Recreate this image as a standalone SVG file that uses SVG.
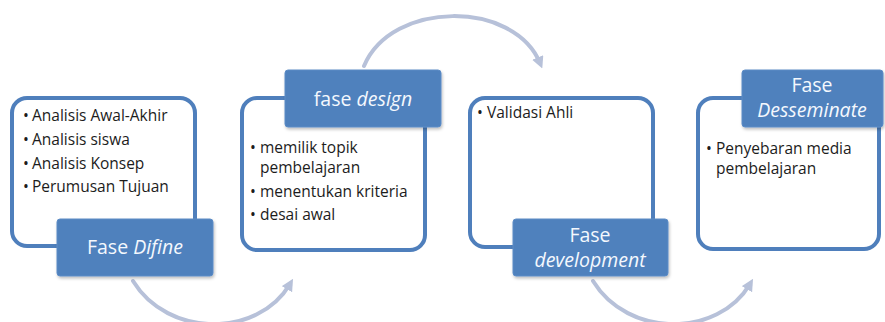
<svg xmlns="http://www.w3.org/2000/svg" width="885" height="322" viewBox="0 0 885 322">
<style>
.box{fill:#ffffff;stroke:#4f7fbc;stroke-width:4}
.lbl{fill:#4f81bd;stroke:#5d8cc6;stroke-width:1}
.lt{font-family:"Open Sans","Noto Sans",sans-serif;font-size:19.5px;fill:#f4f8fd;text-anchor:middle}
.bt{font-family:"Open Sans","Noto Sans",sans-serif;font-size:15.5px;fill:#1c1c1c}
.arc{fill:none;stroke:#b7c1d9;stroke-width:4;stroke-linecap:round}
</style>
<defs>
<marker id="ah" viewBox="0 0 10 10" refX="5" refY="5" markerWidth="3" markerHeight="3" orient="auto" markerUnits="strokeWidth">
<path d="M0,0 L10,5 L0,10 z" fill="#b7c1d9"/>
</marker>
<filter id="sh" x="-10%" y="-10%" width="130%" height="140%">
<feDropShadow dx="1" dy="2" stdDeviation="1.5" flood-color="#000" flood-opacity="0.25"/>
</filter>
</defs>
<rect width="885" height="322" fill="#ffffff"/>
<g id="connectors">
<path class="arc" d="M133,281 C168,338 258,338 290,284" marker-end="url(#ah)"/>
<path class="arc" d="M364,66 C392,0 514,0 540,63" marker-end="url(#ah)"/>
<path class="arc" d="M593,281 C628,338 718,338 750,284" marker-end="url(#ah)"/>
</g>
<g id="node-define">
<rect class="box" x="12" y="98" width="183" height="148" rx="15"/>
<text class="bt" x="23" y="121">•</text><text class="bt" x="32" y="121">Analisis Awal-Akhir</text>
<text class="bt" x="23" y="145">•</text><text class="bt" x="32" y="145">Analisis siswa</text>
<text class="bt" x="23" y="169">•</text><text class="bt" x="32" y="169">Analisis Konsep</text>
<text class="bt" x="23" y="192">•</text><text class="bt" x="32" y="192">Perumusan Tujuan</text>
<rect class="lbl" x="57" y="219" width="156" height="57" rx="3" filter="url(#sh)"/>
<text class="lt" x="135" y="254">Fase <tspan font-style="italic">Difine</tspan></text>
</g>
<g id="node-design">
<rect class="box" x="242" y="98" width="183" height="152" rx="15"/>
<text class="bt" x="250" y="153">•</text><text class="bt" x="260" y="153">memilik topik</text>
<text class="bt" x="260" y="173">pembelajaran</text>
<text class="bt" x="250" y="197">•</text><text class="bt" x="260" y="197">menentukan kriteria</text>
<text class="bt" x="250" y="220">•</text><text class="bt" x="260" y="220">desai awal</text>
<rect class="lbl" x="285" y="70" width="156" height="57" rx="3" filter="url(#sh)"/>
<text class="lt" x="363" y="106">fase <tspan font-style="italic">design</tspan></text>
</g>
<g id="node-development">
<rect class="box" x="470" y="98" width="183" height="149" rx="15"/>
<text class="bt" x="477" y="118">•</text><text class="bt" x="487" y="118">Validasi Ahli</text>
<rect class="lbl" x="513" y="219" width="155" height="57" rx="3" filter="url(#sh)"/>
<text class="lt" x="590" y="242">Fase</text>
<text class="lt" x="590" y="267" font-style="italic">development</text>
</g>
<g id="node-desseminate">
<rect class="box" x="698" y="98" width="181" height="151" rx="15"/>
<text class="bt" x="706" y="154">•</text><text class="bt" x="716" y="154">Penyebaran media</text>
<text class="bt" x="716" y="174">pembelajaran</text>
<rect class="lbl" x="742" y="70" width="141" height="57" rx="3" filter="url(#sh)"/>
<text class="lt" x="812" y="92">Fase</text>
<text class="lt" x="812" y="117" font-style="italic">Desseminate</text>
</g>
</svg>
